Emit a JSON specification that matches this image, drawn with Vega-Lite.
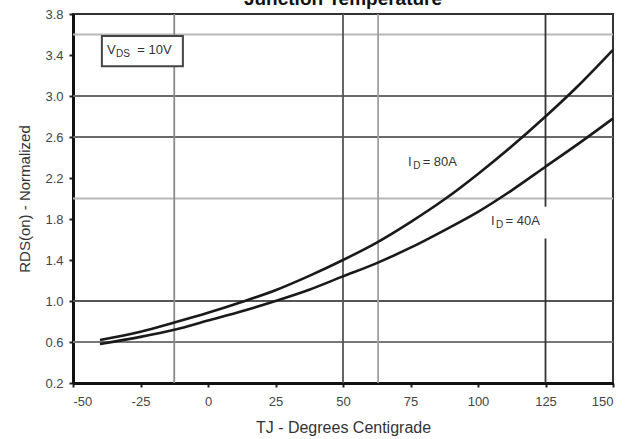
{
  "$schema": "https://vega.github.io/schema/vega-lite/v6.json",
  "width": 540,
  "height": 369,
  "autosize": {"type": "none"},
  "padding": {"left": 73, "top": 14, "right": 26, "bottom": 56},
  "background": "white",
  "config": {
    "font": "Liberation Sans",
    "view": {"stroke": "#333", "strokeWidth": 2}
  },
  "title": {
    "text": "Junction Temperature",
    "fontSize": 19,
    "fontWeight": "bold",
    "color": "#111",
    "anchor": "middle",
    "baseline": "alphabetic",
    "offset": 0,
    "dy": 16
  },
  "datasets": {
    "curves": [
      {"series": "80A", "t": -40, "r": 0.62},
      {"series": "80A", "t": -25, "r": 0.70},
      {"series": "80A", "t": -12.5, "r": 0.79},
      {"series": "80A", "t": 0, "r": 0.885},
      {"series": "80A", "t": 12.5, "r": 0.99},
      {"series": "80A", "t": 25, "r": 1.105},
      {"series": "80A", "t": 37.5, "r": 1.245},
      {"series": "80A", "t": 50, "r": 1.40},
      {"series": "80A", "t": 62.5, "r": 1.57},
      {"series": "80A", "t": 75, "r": 1.77},
      {"series": "80A", "t": 87.5, "r": 1.99},
      {"series": "80A", "t": 100, "r": 2.24},
      {"series": "80A", "t": 112.5, "r": 2.51},
      {"series": "80A", "t": 125, "r": 2.80},
      {"series": "80A", "t": 137.5, "r": 3.11},
      {"series": "80A", "t": 150, "r": 3.45},
      {"series": "40A", "t": -40, "r": 0.58},
      {"series": "40A", "t": -25, "r": 0.65},
      {"series": "40A", "t": -12.5, "r": 0.72},
      {"series": "40A", "t": 0, "r": 0.81},
      {"series": "40A", "t": 12.5, "r": 0.90},
      {"series": "40A", "t": 25, "r": 1.0},
      {"series": "40A", "t": 37.5, "r": 1.11},
      {"series": "40A", "t": 50, "r": 1.24},
      {"series": "40A", "t": 62.5, "r": 1.37},
      {"series": "40A", "t": 75, "r": 1.52},
      {"series": "40A", "t": 87.5, "r": 1.69},
      {"series": "40A", "t": 100, "r": 1.87},
      {"series": "40A", "t": 112.5, "r": 2.08},
      {"series": "40A", "t": 125, "r": 2.31},
      {"series": "40A", "t": 137.5, "r": 2.54},
      {"series": "40A", "t": 150, "r": 2.78}
    ],
    "hgrid": [
      {"y": 3.6, "c": "#b8b8b8"},
      {"y": 3.0, "c": "#6a6a6a"},
      {"y": 2.6, "c": "#6a6a6a"},
      {"y": 2.0, "c": "#b8b8b8"},
      {"y": 1.0, "c": "#555555"},
      {"y": 0.6, "c": "#777777"}
    ],
    "vgrid": [
      {"x": -12.5, "y1": 0.2, "y2": 3.8, "c": "#8a8a8a"},
      {"x": 50, "y1": 0.2, "y2": 3.8, "c": "#555555"},
      {"x": 63, "y1": 0.2, "y2": 3.8, "c": "#a0a0a0"},
      {"x": 125, "y1": 1.92, "y2": 3.8, "c": "#333333"},
      {"x": 125, "y1": 0.2, "y2": 1.61, "c": "#333333"}
    ],
    "box": [
      {"x1": -39.3, "x2": -9.3, "y1": 3.29, "y2": 3.585}
    ],
    "mainText": [
      {"x": -37.4, "y": 3.45, "t": "V"},
      {"x": -26.2, "y": 3.45, "t": "= 10V"},
      {"x": 74.1, "y": 2.36, "t": "I"},
      {"x": 79.5, "y": 2.36, "t": "= 80A"},
      {"x": 104.8, "y": 1.78, "t": "I"},
      {"x": 110.2, "y": 1.78, "t": "= 40A"}
    ],
    "subText": [
      {"x": -34.1, "y": 3.45, "t": "DS"},
      {"x": 76.0, "y": 2.36, "t": "D"},
      {"x": 106.7, "y": 1.78, "t": "D"}
    ]
  },
  "layer": [
    {
      "data": {"name": "hgrid"},
      "mark": {"type": "rule", "strokeWidth": 1.8},
      "encoding": {
        "y": {"field": "y", "type": "quantitative", "scale": {"domain": [0.2, 3.8], "nice": false, "zero": false},
          "axis": {
            "title": "RDS(on) - Normalized",
            "titleFontSize": 15,
            "titleFontWeight": "normal",
            "titleColor": "#333",
            "titlePadding": 12,
            "values": [0.2, 0.6, 1.0, 1.4, 1.8, 2.2, 2.6, 3.0, 3.4, 3.8],
            "format": ".1f",
            "labelFontSize": 13,
            "labelColor": "#444",
            "labelPadding": 6,
            "tickSize": 4,
            "tickColor": "#222",
            "tickWidth": 2,
            "domainColor": "#111",
            "domainWidth": 3,
            "grid": false
          }},
        "color": {"field": "c", "type": "nominal", "scale": null}
      }
    },
    {
      "data": {"name": "vgrid"},
      "mark": {"type": "rule", "strokeWidth": 1.8},
      "encoding": {
        "x": {"field": "x", "type": "quantitative", "scale": {"domain": [-50, 150], "nice": false, "zero": false},
          "axis": {
            "title": "TJ - Degrees Centigrade",
            "titleFontSize": 16,
            "titleFontWeight": "normal",
            "titleColor": "#333",
            "titlePadding": 11,
            "values": [-50, -25, 0, 25, 50, 75, 100, 125, 150],
            "labelExpr": "'' + datum.value",
            "labelFontSize": 13,
            "labelColor": "#444",
            "labelPadding": 8,
            "tickSize": 4,
            "tickColor": "#222",
            "tickWidth": 2,
            "domainColor": "#111",
            "domainWidth": 3,
            "grid": false
          }},
        "y": {"field": "y1", "type": "quantitative"},
        "y2": {"field": "y2"},
        "color": {"field": "c", "type": "nominal", "scale": null}
      }
    },
    {
      "data": {"name": "curves"},
      "mark": {"type": "line", "interpolate": "monotone", "strokeWidth": 2.6, "color": "#1a1a1a"},
      "encoding": {
        "x": {"field": "t", "type": "quantitative"},
        "y": {"field": "r", "type": "quantitative"},
        "detail": {"field": "series", "type": "nominal"}
      }
    },
    {
      "data": {"name": "box"},
      "mark": {"type": "rect", "fill": "white", "stroke": "#444", "strokeWidth": 2},
      "encoding": {
        "x": {"field": "x1", "type": "quantitative"},
        "x2": {"field": "x2"},
        "y": {"field": "y1", "type": "quantitative"},
        "y2": {"field": "y2"}
      }
    },
    {
      "data": {"name": "mainText"},
      "mark": {"type": "text", "align": "left", "baseline": "middle", "fontSize": 13, "color": "#333"},
      "encoding": {
        "x": {"field": "x", "type": "quantitative"},
        "y": {"field": "y", "type": "quantitative"},
        "text": {"field": "t"}
      }
    },
    {
      "data": {"name": "subText"},
      "mark": {"type": "text", "align": "left", "baseline": "middle", "fontSize": 10, "dy": 4, "color": "#333"},
      "encoding": {
        "x": {"field": "x", "type": "quantitative"},
        "y": {"field": "y", "type": "quantitative"},
        "text": {"field": "t"}
      }
    }
  ]
}
